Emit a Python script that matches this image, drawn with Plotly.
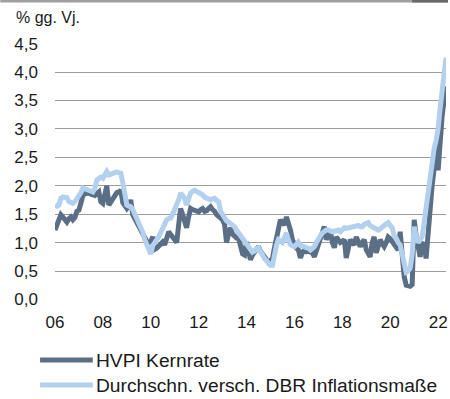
import pandas as pd
import plotly.graph_objects as go

# Monthly observations, January 2006 to May 2022 (% change on previous year)
dates = pd.date_range("2006-01-01", "2022-05-01", freq="MS")

hvpi_kernrate = [
    1.22, 1.30, 1.40, 1.49, 1.45, 1.38, 1.36, 1.42, 1.45, 1.40, 1.44, 1.55,  # 2006
    1.57, 1.70, 1.82, 1.86, 1.87, 1.87, 1.85, 1.83, 1.83, 1.86, 1.89, 1.72,  # 2007
    1.69, 1.85, 2.00, 1.66, 1.72, 1.80, 1.84, 1.88, 1.89, 1.92, 1.70, 1.66,  # 2008
    1.60, 1.65, 1.75, 1.49, 1.42, 1.36, 1.28, 1.20, 1.12, 1.06, 1.02, 1.00,  # 2009
    1.02, 1.10, 0.88, 0.90, 0.93, 0.98, 1.01, 0.96, 1.05, 1.19, 1.14, 1.10,  # 2010
    1.05, 1.00, 1.30, 1.60, 1.50, 1.40, 1.26, 1.45, 1.60, 1.58, 1.57, 1.56,  # 2011
    1.54, 1.58, 1.60, 1.55, 1.56, 1.60, 1.63, 1.58, 1.55, 1.49, 1.45, 1.43,  # 2012
    1.40, 1.31, 1.00, 1.15, 1.26, 1.15, 1.10, 1.08, 1.08, 0.95, 0.80, 0.78,  # 2013
    1.01, 0.85, 0.70, 0.78, 0.82, 0.88, 0.93, 0.85, 0.78, 0.75, 0.70, 0.65,  # 2014
    0.68, 0.72, 0.90, 1.10, 1.26, 1.40, 1.35, 1.31, 1.45, 1.35, 1.22, 1.05,  # 2015
    0.95, 0.90, 0.87, 0.73, 0.82, 0.87, 0.84, 0.85, 0.83, 0.82, 0.75, 0.85,  # 2016
    1.00, 1.10, 1.20, 1.28, 1.05, 1.15, 1.22, 1.00, 0.91, 1.10, 1.05, 1.00,  # 2017
    1.02, 1.05, 0.73, 0.95, 1.05, 1.00, 0.96, 1.10, 1.00, 0.93, 1.00, 1.05,  # 2018
    0.87, 0.80, 0.75, 1.00, 1.10, 0.82, 0.95, 1.05, 0.98, 0.93, 1.00, 1.10,  # 2019
    1.07, 1.02, 0.95, 0.90, 0.87, 1.19, 0.80, 0.40, 0.25, 0.23, 0.23, 0.26,  # 2020
    1.40, 1.10, 0.93, 0.75, 0.95, 1.00, 0.72, 1.20, 1.63, 2.00, 2.30, 2.74,  # 2021
    2.27, 2.85, 3.20, 3.50, 3.75,                                            # 2022
]

dbr_inflationsmasse = [
    1.66, 1.64, 1.66, 1.78, 1.80, 1.80, 1.79, 1.72, 1.71, 1.69, 1.72, 1.77,  # 2006
    1.80, 1.88, 1.96, 1.95, 1.92, 1.91, 1.90, 1.89, 1.95, 2.10, 2.13, 2.15,  # 2007
    2.13, 2.20, 2.25, 2.19, 2.21, 2.22, 2.23, 2.24, 2.24, 2.22, 2.05, 1.80,  # 2008
    1.66, 1.64, 1.63, 1.58, 1.50, 1.42, 1.33, 1.28, 1.18, 1.05, 0.95, 0.85,  # 2009
    0.80, 0.95, 1.02, 1.05, 1.10, 1.18, 1.25, 1.35, 1.40, 1.42, 1.43, 1.50,  # 2010
    1.58, 1.63, 1.75, 1.87, 1.82, 1.78, 1.66, 1.80, 1.87, 1.90, 1.92, 1.90,  # 2011
    1.88, 1.87, 1.84, 1.80, 1.78, 1.76, 1.75, 1.77, 1.78, 1.74, 1.72, 1.55,  # 2012
    1.49, 1.42, 1.38, 1.36, 1.34, 1.31, 1.28, 1.22, 1.17, 1.12, 1.07, 1.04,  # 2013
    1.00, 0.93, 0.88, 0.83, 0.85, 0.90, 0.91, 0.83, 0.77, 0.72, 0.68, 0.65,  # 2014
    0.60, 0.60, 0.80, 0.95, 1.05, 1.03, 1.00, 1.08, 1.17, 1.05, 0.96, 0.94,  # 2015
    0.93, 0.97, 1.01, 0.95, 0.93, 0.92, 0.91, 0.90, 0.87, 0.90, 0.93, 1.00,  # 2016
    1.08, 1.12, 1.17, 1.20, 1.22, 1.22, 1.20, 1.19, 1.20, 1.22, 1.22, 1.19,  # 2017
    1.22, 1.26, 1.25, 1.26, 1.26, 1.28, 1.29, 1.31, 1.30, 1.28, 1.28, 1.32,  # 2018
    1.34, 1.35, 1.30, 1.28, 1.26, 1.24, 1.22, 1.24, 1.26, 1.30, 1.33, 1.35,  # 2019
    1.30, 1.26, 1.12, 1.08, 1.00, 0.96, 0.80, 0.60, 0.48, 0.50, 0.55, 0.80,  # 2020
    1.28, 1.10, 1.00, 1.05, 1.10, 1.35, 1.63, 1.90, 2.15, 2.45, 2.65, 2.80,  # 2021
    3.00, 3.37, 3.65, 3.95, 4.25,                                            # 2022
]

series_names = ["HVPI Kernrate", "Durchschn. versch. DBR Inflationsmaße"]
y_ticks = [0.0, 0.5, 1.0, 1.5, 2.0, 2.5, 3.0, 3.5, 4.0, 4.5]
x_tick_years = list(range(2006, 2023, 2))
x_tick_labels = [f"{y % 100:02d}" for y in x_tick_years]

DARK = "#5a6e85"
LIGHT = "#b3d0ee"
COLORS = [DARK, LIGHT]
FONT = "Liberation Sans, Arial, sans-serif"
TEXT = "#1a1a1a"
LINE_W = 5

# plot area in pixels: left 55, right 448, top 43, bottom 300
PW, PH = 393, 257


def px_x(x):
    return (x - 55) / PW


def px_y(y):
    return (300 - y) / PH


fig = go.Figure()
for name, vals, col in zip(series_names, [hvpi_kernrate, dbr_inflationsmasse], COLORS):
    fig.add_trace(go.Scatter(
        x=dates, y=vals, mode="lines", name=name,
        line=dict(color=col, width=LINE_W), showlegend=False,
    ))

shapes = [
    # rule across the top of the page
    dict(type="line", xref="paper", yref="paper",
         x0=px_x(0), x1=px_x(450), y0=px_y(1), y1=px_y(1),
         line=dict(color="#a0a0a0", width=3)),
    dict(type="line", xref="paper", yref="paper",
         x0=px_x(414), x1=px_x(450), y0=px_y(1), y1=px_y(1),
         line=dict(color="#6a6a6a", width=3)),
]
annotations = [dict(
    text="% gg. Vj.", xref="paper", yref="paper",
    x=px_x(14), y=px_y(18), xanchor="left", yanchor="middle",
    showarrow=False, font=dict(family=FONT, size=16, color=TEXT),
)]

# legend: line sample plus series name
for i, (name, col) in enumerate(zip(series_names, COLORS)):
    yy = 360 + 25 * i
    shapes.append(dict(type="line", xref="paper", yref="paper",
                       x0=px_x(40), x1=px_x(93), y0=px_y(yy), y1=px_y(yy),
                       line=dict(color=col, width=LINE_W)))
    annotations.append(dict(
        text=name, xref="paper", yref="paper",
        x=px_x(94), y=px_y(yy), xanchor="left", yanchor="middle",
        showarrow=False, font=dict(family=FONT, size=19.2, color=TEXT),
    ))

fig.update_layout(
    width=450, height=399,
    margin=dict(l=55, r=2, t=43, b=99),
    paper_bgcolor="white", plot_bgcolor="white",
    font=dict(family=FONT, size=16, color=TEXT),
    separators=",.",
    showlegend=False,
    shapes=shapes,
    annotations=annotations,
)

fig.update_xaxes(
    type="date",
    range=["2006-01-01", "2022-05-01"],
    tickvals=[pd.Timestamp(f"{y}-01-01") for y in x_tick_years],
    ticktext=x_tick_labels,
    showgrid=False, zeroline=False, showline=False,
    ticks="", ticklabelstandoff=10,
    tickfont=dict(family=FONT, size=17, color=TEXT),
)
fig.update_yaxes(
    range=[-0.01, 4.51],
    tickvals=y_ticks, tickformat=".1f",
    showgrid=True, gridcolor="#9c9c9c", gridwidth=1,
    zeroline=False, showline=False,
    ticks="", ticklabelstandoff=16,
    tickfont=dict(family=FONT, size=17, color=TEXT),
)

fig.write_html("out.html")
